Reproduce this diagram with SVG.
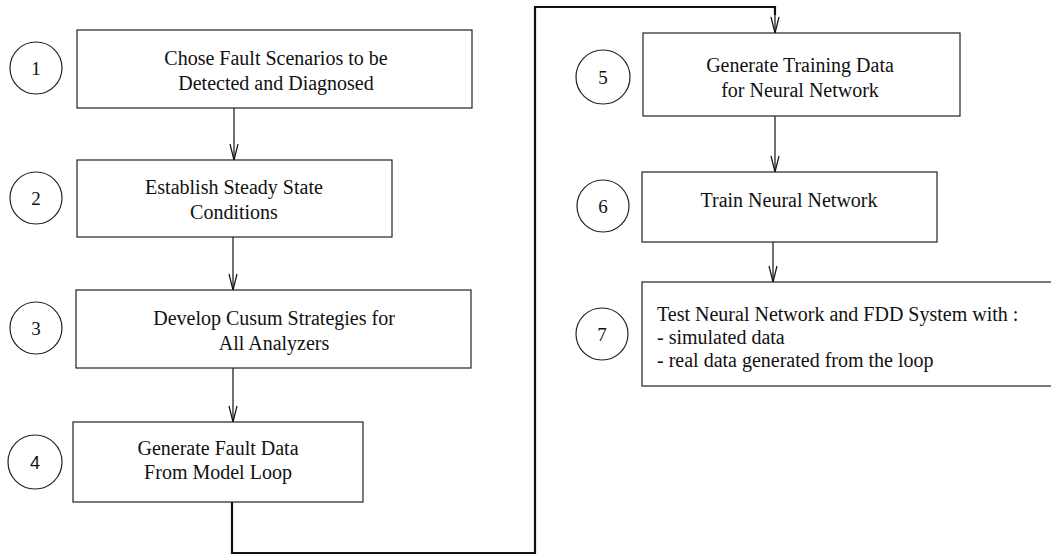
<svg xmlns="http://www.w3.org/2000/svg" width="1051" height="556" viewBox="0 0 1051 556">
<defs>
<marker id="arr" markerWidth="18" markerHeight="10" refX="17" refY="5" orient="auto" markerUnits="userSpaceOnUse" viewBox="0 0 18 10">
<path d="M1,1 L17,5 L1,9" fill="none" stroke="#111" stroke-width="1.2"/>
</marker>
<style>
.box{fill:#fff;stroke:#222;stroke-width:1.2}
.circ{fill:#fff;stroke:#222;stroke-width:1.2}
.t{font-family:"Liberation Serif","Times New Roman",serif;font-size:20px;fill:#111}
.c{text-anchor:middle}
.num{font-family:"Liberation Serif","Times New Roman",serif;font-size:19px;fill:#111;text-anchor:middle}
.ln{fill:none;stroke:#111;stroke-width:1.2}
.loop{fill:none;stroke:#111;stroke-width:2.2}
</style>
</defs>
<rect width="1051" height="556" fill="#fff"/>
<g id="connectors">
<line class="ln" x1="234" y1="108" x2="234" y2="160" marker-end="url(#arr)"/>
<line class="ln" x1="233" y1="237" x2="233" y2="290" marker-end="url(#arr)"/>
<line class="ln" x1="233" y1="368" x2="233" y2="422" marker-end="url(#arr)"/>
<polyline class="loop" points="232,502 232,553 535,553 535,7 775,7 775,15"/>
<line class="ln" x1="775" y1="14" x2="775" y2="33" marker-end="url(#arr)"/>
<line class="ln" x1="775" y1="116" x2="775" y2="172" marker-end="url(#arr)"/>
<line class="ln" x1="773" y1="242" x2="773" y2="282" marker-end="url(#arr)"/>
</g>
<g id="step1">
<circle class="circ" cx="36" cy="68" r="26"/>
<text class="num" x="36" y="75">1</text>
<rect class="box" x="77" y="30" width="395" height="78"/>
<text class="t c" x="276" y="65">Chose Fault Scenarios to be</text>
<text class="t c" x="276" y="90">Detected and Diagnosed</text>
</g>
<g id="step2">
<circle class="circ" cx="36" cy="198" r="26"/>
<text class="num" x="36" y="205">2</text>
<rect class="box" x="77" y="160" width="315" height="77"/>
<text class="t c" x="234" y="194">Establish Steady State</text>
<text class="t c" x="234" y="219">Conditions</text>
</g>
<g id="step3">
<circle class="circ" cx="36" cy="328" r="26"/>
<text class="num" x="36" y="335">3</text>
<rect class="box" x="76" y="290" width="395" height="78"/>
<text class="t c" x="274" y="325">Develop Cusum Strategies for</text>
<text class="t c" x="274" y="350">All Analyzers</text>
</g>
<g id="step4">
<circle class="circ" cx="35" cy="462" r="27"/>
<text class="num" x="35" y="469" style="font-family:'Liberation Sans',Arial,sans-serif;font-size:18px">4</text>
<rect class="box" x="73" y="422" width="290" height="80"/>
<text class="t c" x="218" y="455">Generate Fault Data</text>
<text class="t c" x="218" y="479">From Model Loop</text>
</g>
<g id="step5">
<circle class="circ" cx="603" cy="77" r="27"/>
<text class="num" x="603" y="84">5</text>
<rect class="box" x="643" y="33" width="317" height="83"/>
<text class="t c" x="800" y="72">Generate Training Data</text>
<text class="t c" x="800" y="97">for Neural Network</text>
</g>
<g id="step6">
<circle class="circ" cx="603" cy="206" r="26"/>
<text class="num" x="603" y="213">6</text>
<rect class="box" x="642" y="172" width="295" height="70"/>
<text class="t c" x="789" y="207">Train Neural Network</text>
</g>
<g id="step7">
<circle class="circ" cx="602" cy="334" r="26"/>
<text class="num" x="602" y="341">7</text>
<rect class="box" x="642" y="282" width="415" height="104"/>
<text class="t" x="657" y="321">Test Neural Network and FDD System with :</text>
<text class="t" x="657" y="344">- simulated data</text>
<text class="t" x="657" y="367">- real data generated from the loop</text>
</g>
</svg>
